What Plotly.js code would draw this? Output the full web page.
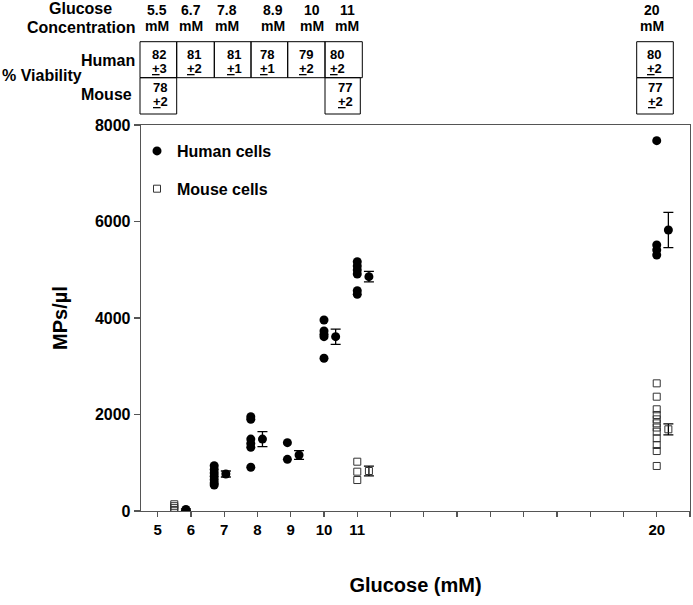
<!DOCTYPE html>
<html>
<head>
<meta charset="utf-8">
<script src="https://cdn.plot.ly/plotly-3.0.1.min.js"></script>
<style>html,body{margin:0;padding:0;background:#fff;}#chart{width:693px;height:605px;}</style>
</head>
<body>
<div id="chart"></div>
<script>
// ---------- DATA ----------
// individual human measurements (MPs/µl) by glucose concentration (mM)
const human_5_5 = [];
const human_6_7 = [940, 860, 790, 720, 650, 580, 540];
const human_7_8 = [1955, 1900, 1490, 1400, 1320, 906];
const human_8_9 = [1416, 1071];
const human_10 = [3958, 3731, 3662, 3613, 3165];
const human_11 = [5167, 5078, 4995, 4912, 4566, 4491];
const human_20 = [7675, 5513, 5409, 5306];
// individual mouse measurements
const mouse_5_5 = [140, 100, 60, 20];
const mouse_11 = [1022, 815, 642];
const mouse_20 = [2646, 2369, 2108, 1990, 1900, 1817, 1730, 1644, 1506, 1368, 1243, 933];
// group means and error
const humanMeanConc = [5.5, 6.7, 7.8, 8.9, 10, 11, 20];
const humanMean = [30, 767, 1490, 1160, 3613, 4857, 5824];
const humanErr = [15, 62, 155, 90, 158, 110, 367];
const mouseMeanConc = [11, 20];
const mouseMean = [829, 1693];
const mouseErr = [103, 114];
// header table
const headerConc = ['5.5', '6.7', '7.8', '8.9', '10', '11', '20'];
const humanViab = ['82', '81', '81', '78', '79', '80', '80'];
const humanSD = ['3', '2', '1', '1', '2', '2', '2'];
const mouseCols = [0, 5, 6];
const mouseViab = ['78', '77', '77'];
const mouseSD = ['2', '2', '2'];
// axis ticks
const xTickVals = [5,6,7,8,9,10,11,12,13,14,15,16,17,18,19,20,21];
const xTickText = ['5','6','7','8','9','10','11','','','','','','','','','20',''];
const yTickVals = [0, 2000, 4000, 6000, 8000];

// ---------- BUILD ----------
const FONT = 'Liberation Sans, Arial, Helvetica, sans-serif';
const MEAN_OFFSET = 0.35;
function rep(v, n){ return new Array(n).fill(v); }
const hx = [], hy = [];
[[5.5,human_5_5],[6.7,human_6_7],[7.8,human_7_8],[8.9,human_8_9],[10,human_10],[11,human_11],[20,human_20]]
  .forEach(([c,arr]) => { hx.push(...rep(c, arr.length)); hy.push(...arr); });
const mx = [], my = [];
[[5.5,mouse_5_5],[11,mouse_11],[20,mouse_20]]
  .forEach(([c,arr]) => { mx.push(...rep(c, arr.length)); my.push(...arr); });

const traces = [
  {x: hx, y: hy, type: 'scatter', mode: 'markers', name: 'Human cells', legendgroup: 'h',
   marker: {symbol: 'circle', size: 9, color: '#000'}, cliponaxis: false},
  {x: humanMeanConc.map(c => c + MEAN_OFFSET), y: humanMean, type: 'scatter', mode: 'markers',
   showlegend: false, legendgroup: 'h',
   marker: {symbol: 'circle', size: 9, color: '#000'},
   error_y: {type: 'data', array: humanErr, visible: true, color: '#000', thickness: 1.3, width: 5}},
  {x: mx, y: my, type: 'scatter', mode: 'markers', name: 'Mouse cells', legendgroup: 'm',
   marker: {symbol: 'square-open', size: 7, color: '#333', line: {width: 1}}},
  {x: mouseMeanConc.map(c => c + MEAN_OFFSET), y: mouseMean, type: 'scatter', mode: 'markers',
   showlegend: false, legendgroup: 'm',
   marker: {symbol: 'square-open', size: 7, color: '#333', line: {width: 1}},
   error_y: {type: 'data', array: mouseErr, visible: true, color: '#000', thickness: 1.3, width: 5}}
];

// pixel -> paper helpers for the header table
const PL = 141, PR = 690, PT = 125, PB = 511;
const px = v => (v - PL) / (PR - PL);
const py = v => (PB - v) / (PB - PT);

const ann = [];
const shapes = [];
function txt(text, x, y, size, xanchor){
  ann.push({text: text, x: px(x), y: py(y), xref: 'paper', yref: 'paper', showarrow: false,
    xanchor: xanchor || 'center', yanchor: 'middle',
    font: {family: FONT, size: size, color: '#000', weight: 'bold'}});
}
function box(x0, x1, y0, y1){
  shapes.push({type: 'rect', xref: 'paper', yref: 'paper', x0: px(x0), x1: px(x1), y0: py(y1), y1: py(y0),
    line: {color: '#000', width: 1}, fillcolor: 'rgba(0,0,0,0)'});
}
txt('Glucose', 80, 8, 16);
txt('Concentration', 81, 27, 16);
txt('Human', 137, 60, 16, 'right');
txt('% Viability', 0, 75, 16, 'left');
txt('Mouse', 134, 95, 16, 'right');
const headerX = [157, 191, 227, 273, 312, 347, 652];
const colBounds = [[140,176.7],[176.7,214.3],[214.3,251],[251,287.7],[287.7,325],[325,362.3],[636.7,673.3]];
const textLeft = [150, 185, 225, 258, 297, 328, 645];
headerConc.forEach((c, i) => {
  txt(c, headerX[i], 10, 14);
  txt('mM', headerX[i], 26, 14);
  box(colBounds[i][0], colBounds[i][1], 41.7, 77.7);
  txt(humanViab[i], textLeft[i], 54, 13, 'left');
  txt('<u>+</u>' + humanSD[i], textLeft[i], 69, 13, 'left');
});
mouseCols.forEach((ci, k) => {
  const x0 = colBounds[ci][0], x1 = colBounds[ci][1] - (ci === 5 ? 2 : 0);
  box(x0, x1, 77.7, 114);
  const tl = ci === 0 ? 151 : (ci === 5 ? 336 : 646);
  txt(mouseViab[k], tl, 87, 13, 'left');
  txt('<u>+</u>' + mouseSD[k], tl, 101.5, 13, 'left');
});

const layout = {
  width: 693, height: 605,
  margin: {l: PL, r: 693 - PR, t: PT, b: 605 - PB, pad: 0},
  paper_bgcolor: '#fff', plot_bgcolor: '#fff',
  font: {family: FONT, color: '#000'},
  showlegend: true,
  legend: {x: px(137), y: py(134), xanchor: 'left', yanchor: 'top', bgcolor: 'rgba(0,0,0,0)',
    font: {family: FONT, size: 16, color: '#000', weight: 'bold'},
    traceorder: 'grouped', tracegroupgap: 14},
  xaxis: {range: [4.5, 21], tickvals: xTickVals, ticktext: xTickText, ticks: 'outside', ticklen: 5,
    tickwidth: 1.3, tickcolor: '#555', showline: true, linecolor: '#555', linewidth: 1.3, mirror: true,
    showgrid: false, zeroline: false,
    tickfont: {family: FONT, size: 15, color: '#000', weight: 'bold'},
    title: {text: 'Glucose (mM)', standoff: 40, font: {family: FONT, size: 20, color: '#000', weight: 'bold'}}},
  yaxis: {range: [0, 8000], tickvals: yTickVals, ticks: 'outside', ticklen: 6,
    tickwidth: 1.3, tickcolor: '#555', showline: true, linecolor: '#555', linewidth: 1.3, mirror: true,
    showgrid: false, zeroline: false,
    tickfont: {family: FONT, size: 16, color: '#000', weight: 'bold'},
    title: {text: 'MPs/µl', standoff: 22, font: {family: FONT, size: 20, color: '#000', weight: 'bold'}}},
  annotations: ann,
  shapes: shapes
};
Plotly.newPlot('chart', traces, layout, {displayModeBar: false, staticPlot: true});
</script>
</body>
</html>
